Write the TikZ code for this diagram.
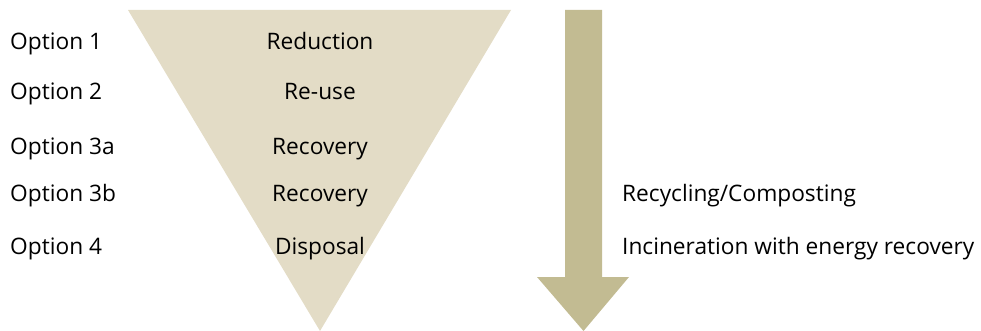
\documentclass[tikz,border=0pt]{standalone}
\usepackage{fontspec}
\setmainfont{Open Sans}
\definecolor{funnel}{RGB}{227,220,198}
\definecolor{shaft}{RGB}{194,187,146}

\begin{document}
\begin{tikzpicture}[x=1pt,y=-1pt,
    lab/.style={inner sep=0pt,font=\fontsize{22.7}{27}\selectfont}]
    \useasboundingbox (0,0) rectangle (981,331);
    % funnel and downward arrow
    \fill[funnel] (128,10) -- (511,10) -- (320,331) -- cycle;
    \fill[shaft] (565,10) -- (602,10) -- (602,277) -- (629,277)
        -- (583.5,331) -- (537,277) -- (565,277) -- cycle;

    \foreach \yy/\opt/\lev [count=\i] in {50/1/Reduction,100/2/Re-use,154/3a/Recovery,201/3b/Recovery,254/4/Disposal} {
      \node[lab,anchor=base west] (opt\i) at (10,\yy) {Option \opt};
      \node[lab,anchor=base] (lev\i) at (320,\yy) {\lev};
    }
    \node[lab,anchor=base west] (recyc) at (622,201) {Recycling/Composting};
    \node[lab,anchor=base west] (incin) at (622,254) {Incineration with energy recovery};
\end{tikzpicture}
\end{document}
